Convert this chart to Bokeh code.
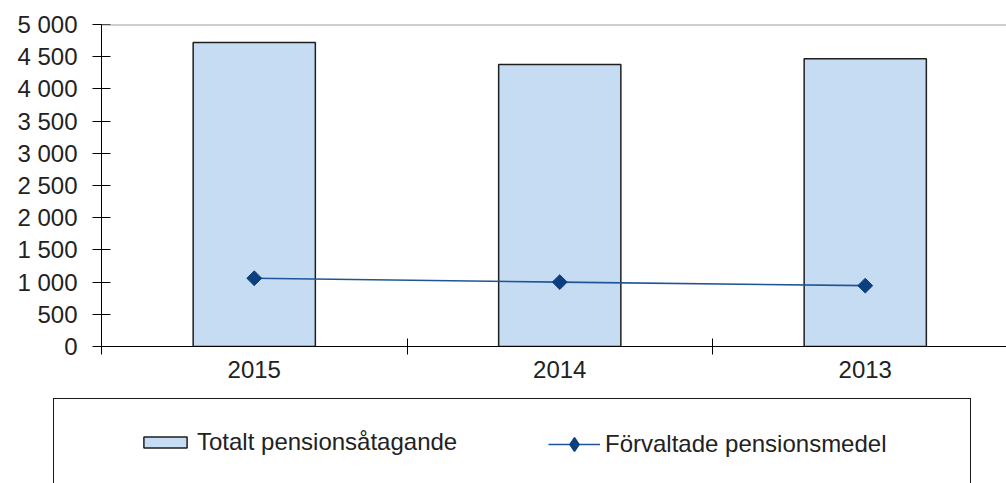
import math
from bokeh.plotting import figure
from bokeh.models import Range1d, FixedTicker, Span, Legend, LegendItem
from bokeh.layouts import column
from bokeh.embed import file_html
from bokeh.resources import INLINE

# ---- data ----
categories = ["2015", "2014", "2013"]
totalt_pensionsatagande = [4720, 4380, 4470]
forvaltade_pensionsmedel = [1060, 1000, 945]
y_ticks = [0, 500, 1000, 1500, 2000, 2500, 3000, 3500, 4000, 4500, 5000]
bar_label = "Totalt pensionsåtagande"
line_label = "Förvaltade pensionsmedel"

FONT = "Liberation Sans"
TXT = "#222222"
BAR_FILL = "#C6DCF2"
BAR_LINE = "#1e1e1e"
LINE_COL = "#1f5596"
MARK_COL = "#0c3f7d"

xs = [i + 0.5 for i in range(len(categories))]


def draw_series(fig, visible=True, legend_marker=False):
    rb = fig.vbar(x=xs, top=totalt_pensionsatagande, width=0.40, bottom=0,
                  fill_color=BAR_FILL, line_color=BAR_LINE, line_width=1.5, visible=visible)
    rl = fig.line(x=xs, y=forvaltade_pensionsmedel, line_color=LINE_COL, line_width=1.6,
                  visible=visible)
    if legend_marker:
        rm = fig.scatter(x=xs, y=forvaltade_pensionsmedel, marker="diamond",
                         fill_color=MARK_COL, line_color=MARK_COL, line_width=1.5,
                         visible=visible)
    else:
        rm = fig.scatter(x=xs, y=forvaltade_pensionsmedel, marker="square", size=10.5,
                         angle=math.pi / 4, fill_color=MARK_COL, line_color=MARK_COL,
                         visible=visible)
    return rb, rl, rm


# ---- main chart ----
p = figure(width=1006, height=398, output_backend="svg", toolbar_location=None,
           x_range=Range1d(0, 905 / 305.5), y_range=Range1d(0, 5000),
           min_border_left=101, min_border_right=0, min_border_top=24, min_border_bottom=52)
p.outline_line_color = None
p.xgrid.visible = False
p.ygrid.visible = False
p.background_fill_color = "white"
p.border_fill_color = "white"

p.add_layout(Span(location=5000, dimension="width", line_color="#a0a0a0", line_width=2))
draw_series(p)

# y axis
ya = p.yaxis[0]
ya.ticker = FixedTicker(ticks=y_ticks, minor_ticks=[])
ya.major_label_overrides = {t: f"{t:,}".replace(",", " ") for t in y_ticks}
ya.major_tick_in = 9
ya.major_tick_out = 9
ya.major_tick_line_color = "black"
ya.axis_line_color = "black"
ya.major_label_standoff = 15
ya.major_label_text_font = FONT
ya.major_label_text_font_size = "24px"
ya.major_label_text_color = TXT

# x axis
xa = p.xaxis[0]
xa.ticker = FixedTicker(ticks=xs, minor_ticks=list(range(len(categories) + 1)))
xa.major_label_overrides = {x: c for x, c in zip(xs, categories)}
xa.major_tick_in = 0
xa.major_tick_out = 0
xa.minor_tick_in = 8
xa.minor_tick_out = 8
xa.minor_tick_line_color = "black"
xa.axis_line_color = "black"
xa.major_label_standoff = 6
xa.major_label_text_font = FONT
xa.major_label_text_font_size = "24px"
xa.major_label_text_color = TXT

# ---- legend panel ----
p2 = figure(width=1006, height=85, output_backend="svg", toolbar_location=None,
            x_range=Range1d(0, 1), y_range=Range1d(0, 1),
            x_axis_type=None, y_axis_type=None,
            min_border_left=0, min_border_right=0, min_border_top=0, min_border_bottom=0)
p2.outline_line_color = None
p2.xgrid.visible = False
p2.ygrid.visible = False
p2.border_fill_color = "white"

for f in (p, p2):
    try:
        f.frame_align = False
    except AttributeError:
        pass

rb2, rl2, rm2 = draw_series(p2, visible=False, legend_marker=True)
r_empty = p2.line(x=[], y=[], line_alpha=0)

box = Legend(items=[LegendItem(label=" ", renderers=[r_empty])], location=(53, -14),
             padding=0, margin=0, spacing=0, glyph_width=916, glyph_height=97,
             label_width=0, label_standoff=0, label_text_font_size="1px", label_text_alpha=0,
             border_line_color="#1a1a1a", border_line_width=1.6, border_line_alpha=1.0,
             background_fill_alpha=0)
p2.add_layout(box)

common = dict(orientation="horizontal", padding=0, margin=0, border_line_color=None,
              background_fill_alpha=0, label_text_font=FONT, label_text_font_size="24px",
              label_text_color=TXT, label_height=24, label_standoff=5)
leg1 = Legend(items=[LegendItem(label=bar_label, renderers=[rb2])], location=(138, 27),
              glyph_width=54, glyph_height=14, **common)
leg2 = Legend(items=[LegendItem(label=line_label, renderers=[rl2, rm2])], location=(548, 22),
              glyph_width=52, glyph_height=34, **common)
p2.add_layout(leg1)
p2.add_layout(leg2)

layout = column(p, p2, spacing=0)
open("out.html", "w").write(file_html(layout, INLINE))
